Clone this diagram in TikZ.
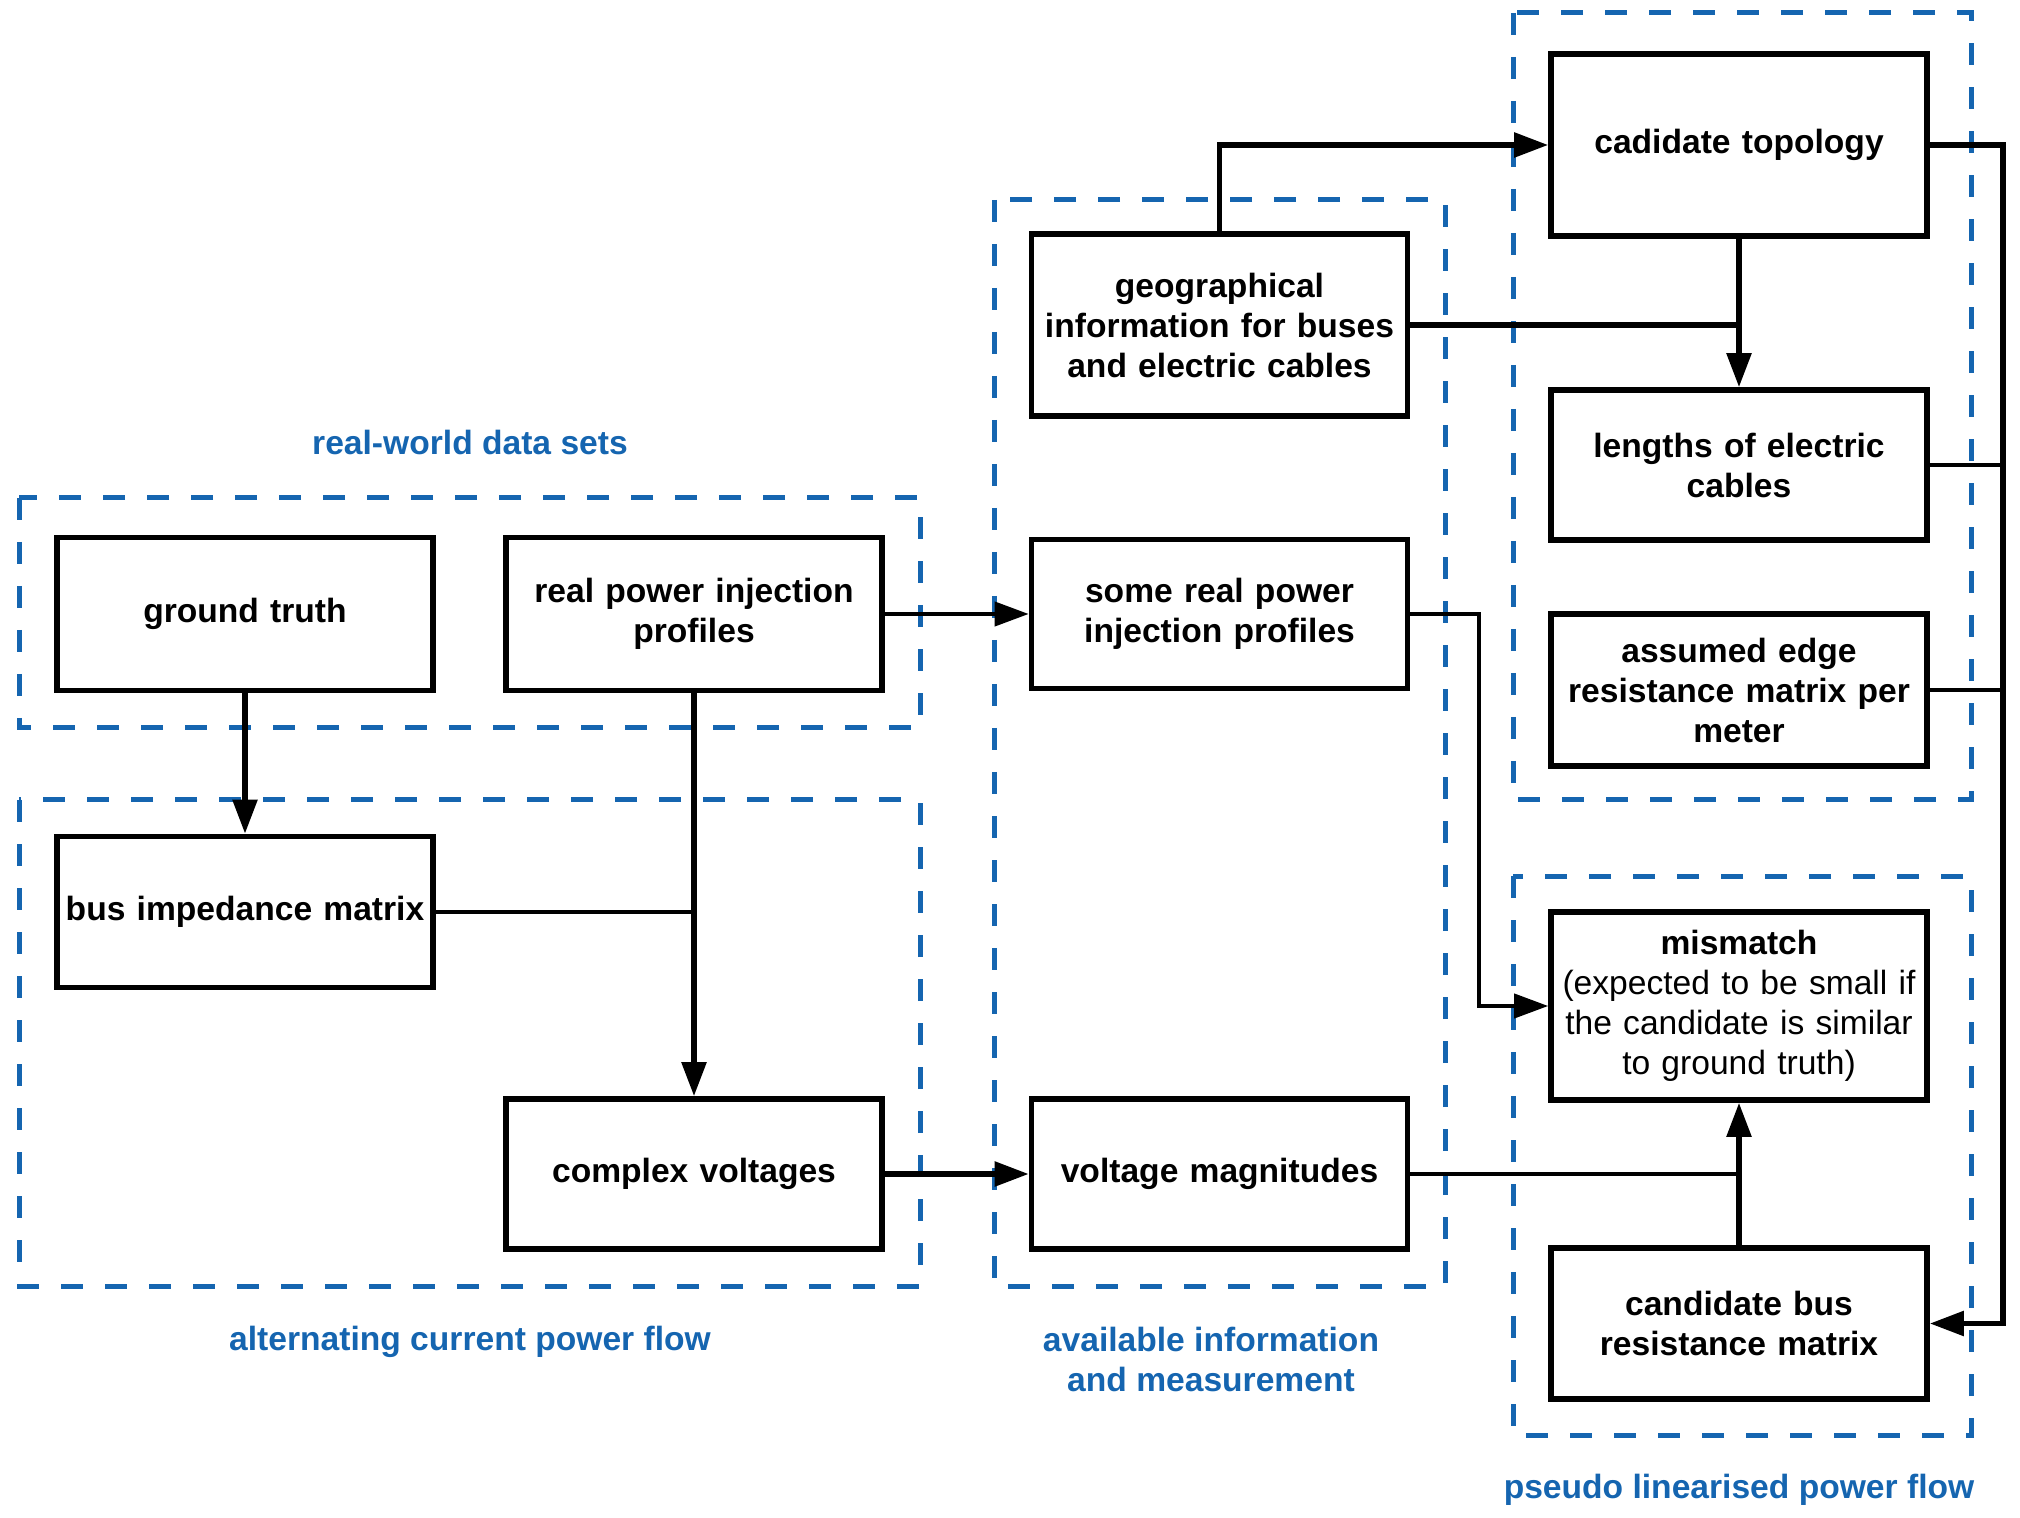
\documentclass[tikz,border=0pt]{standalone}
\usepackage{fontspec}
\setmainfont{Liberation Sans}
\usetikzlibrary{arrows.meta}
\definecolor{grpblue}{RGB}{21,101,176}
\newcommand{\bxfont}{\fontsize{16.8}{20}\selectfont}
\begin{document}
\begin{tikzpicture}[x=0.5pt,y=-0.5pt,
  box/.style={draw, line width=2.8pt, inner sep=0pt, minimum width=188pt, align=center, text width=186pt, font=\bxfont\bfseries},
  grp/.style={draw=grpblue, line width=2.5pt, dash pattern=on 11pt off 11pt},
  lbl/.style={text=grpblue, align=center, font=\bxfont\bfseries},
  conn/.style={line width=2.7pt},
  thinconn/.style={line width=2pt},
  arr/.style={-{Triangle[length=17pt,width=12pt]}}
]
\useasboundingbox (0,0) rectangle (2020,1518);
% groups
\draw[grp] (19,498) rectangle (920,728);
\draw[grp] (19,800) rectangle (920,1286);
\draw[grp] (994,200) rectangle (1445,1286);
\draw[grp] (1513,13) rectangle (1971,800);
\draw[grp] (1513,876) rectangle (1971,1435);
% labels
\node[lbl] (l1) at (470,442) {real-world data sets};
\node[lbl] (l2) at (470,1342) {alternating current power flow};
\node[lbl] (l3) at (1211,1359) {available information\\and measurement};
\node[lbl] (l4) at (1739,1490) {pseudo linearised power flow};
% boxes
\node[box, minimum height=76.5pt] (gt) at (245,614) {ground truth};
\node[box, minimum height=76.5pt] (rp) at (694,614) {real power injection\\profiles};
\node[box, minimum height=75.5pt] (bim) at (245,912) {bus impedance matrix};
\node[box, minimum height=75pt] (cv) at (694,1174) {complex voltages};
\node[box, minimum height=91pt] (geo) at (1219.5,325) {geographical\\information for buses\\and electric cables};
\node[box, minimum height=74.5pt] (srp) at (1219.5,614) {some real power\\injection profiles};
\node[box, minimum height=75pt] (vm) at (1219.5,1174) {voltage magnitudes};
\node[box, minimum height=91pt] (ct) at (1739,145) {cadidate topology};
\node[box, minimum height=75pt] (len) at (1739,465) {lengths of electric\\cables};
\node[box, minimum height=76pt] (aer) at (1739,690) {assumed edge\\resistance matrix per\\meter};
\node[box, minimum height=94pt, font=\bxfont] (mm) at (1739,1006) {\textbf{mismatch}\\(expected to be small if\\the candidate is similar\\to ground truth)};
\node[box, minimum height=75.5pt] (cbr) at (1739,1323.5) {candidate bus\\resistance matrix};
% connectors
\coordinate (bus) at (2003,145);
\coordinate (srpx) at (1479,614);
\draw[conn,arr] (gt.south) -- (bim.north);
\draw[conn,arr] (rp.south) -- (cv.north);
\draw[thinconn] (bim.east) -- (bim.east -| rp.south);
\draw[thinconn,arr] (rp.east) -- (srp.west);
\draw[conn,arr] (cv.east) -- (vm.west);
\draw[conn,arr] (geo.north) |- (ct.west);
\draw[conn,arr] (ct.south) -- (len.north);
\draw[conn] (geo.east) -- (geo.east -| ct.south);
\draw[conn,arr] (ct.east) -| (bus |- cbr.east) -- (cbr.east);
\draw[thinconn] (len.east) -- (len.east -| bus);
\draw[thinconn] (aer.east) -- (aer.east -| bus);
\draw[thinconn,arr] (srp.east) -| (srpx |- mm.west) -- (mm.west);
\draw[conn,arr] (cbr.north) -- (mm.south);
\draw[thinconn] (vm.east) -- (vm.east -| mm.south);
\end{tikzpicture}
\end{document}
